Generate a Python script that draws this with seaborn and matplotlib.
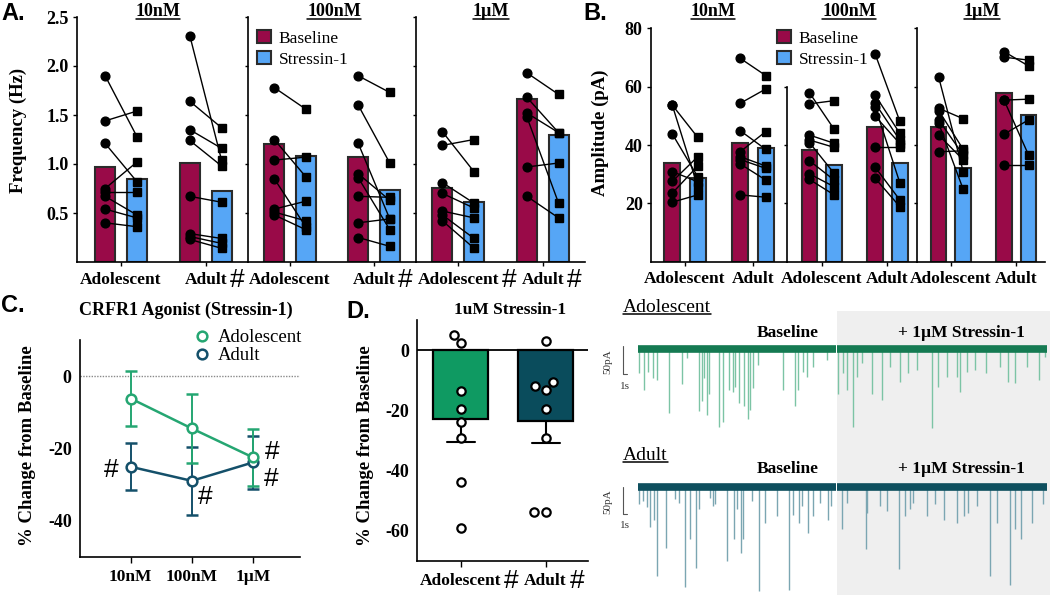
import numpy as np
import pandas as pd
import matplotlib
matplotlib.use("Agg")
import matplotlib.pyplot as plt
import seaborn as sns
from matplotlib.patches import Patch, Rectangle
from matplotlib.lines import Line2D

# ------------------------------------------------------------------ data
GROUPS = ["Adolescent", "Adult"]
CONDS = ["Baseline", "Stressin-1"]
DOSES = ["10nM", "100nM", "1µM"]

# Panel A - frequency (Hz); bar heights [Adolescent, Adult]
freq_bar_base_10nM = [0.97, 1.01]
freq_bar_stress_10nM = [0.85, 0.72]
freq_bar_base_100nM = [1.20, 1.07]
freq_bar_stress_100nM = [1.08, 0.73]
freq_bar_base_1uM = [0.76, 1.66]
freq_bar_stress_1uM = [0.61, 1.30]

freq_10nM_adol_base = [1.90, 1.44, 1.21, 0.75, 0.71, 0.67, 0.54, 0.40]
freq_10nM_adol_stress = [1.28, 1.54, 0.82, 1.02, 0.71, 0.48, 0.45, 0.36]
freq_10nM_adult_base = [2.31, 1.64, 1.35, 1.24, 0.67, 0.29, 0.26, 0.23]
freq_10nM_adult_stress = [1.04, 1.37, 1.16, 0.98, 0.61, 0.24, 0.19, 0.14]
freq_100nM_adol_base = [1.78, 1.25, 1.04, 0.85, 0.54, 0.51, 0.48]
freq_100nM_adol_stress = [1.56, 0.87, 1.07, 0.36, 0.62, 0.42, 0.33]
freq_100nM_adult_base = [1.90, 1.60, 1.21, 0.90, 0.86, 0.67, 0.40, 0.25]
freq_100nM_adult_stress = [1.73, 1.01, 0.44, 0.63, 0.33, 0.66, 0.44, 0.16]
freq_1uM_adol_base = [1.33, 1.19, 0.81, 0.70, 0.52, 0.48, 0.42]
freq_1uM_adol_stress = [0.92, 1.25, 0.60, 0.55, 0.45, 0.24, 0.14]
freq_1uM_adult_base = [1.93, 1.68, 1.52, 1.48, 0.97, 0.67]
freq_1uM_adult_stress = [1.71, 1.32, 1.32, 0.60, 1.01, 0.45]
FREQ_TICKS = [0.5, 1.0, 1.5, 2.0, 2.5]

# Panel B - amplitude (pA)
amp_bar_base_10nM = [33.7, 40.6]
amp_bar_stress_10nM = [28.8, 38.9]
amp_bar_base_100nM = [38.3, 46.3]
amp_bar_stress_100nM = [33.1, 33.7]
amp_bar_base_1uM = [46.1, 57.7]
amp_bar_stress_1uM = [32.2, 50.3]

amp_10nM_adol_base = [53.7, 53.7, 43.8, 30.9, 27.5, 23.5, 20.4]
amp_10nM_adol_stress = [42.6, 25.7, 29.1, 27.4, 36.0, 32.8, 22.9]
amp_10nM_adult_base = [69.7, 54.3, 44.9, 37.7, 36.0, 35.0, 33.5, 22.9]
amp_10nM_adult_stress = [63.8, 59.2, 38.5, 44.6, 32.8, 32.0, 28.0, 22.1]
amp_100nM_adol_base = [57.9, 54.1, 43.4, 41.7, 40.8, 34.6, 30.1, 28.2]
amp_100nM_adol_stress = [45.4, 55.2, 40.6, 39.2, 30.3, 28.0, 25.7, 22.9]
amp_100nM_adult_base = [71.2, 57.1, 54.3, 53.1, 49.9, 39.4, 32.4, 28.6]
amp_100nM_adult_stress = [48.2, 44.0, 41.7, 27.1, 40.5, 39.4, 21.2, 18.9]
amp_1uM_adol_base = [63.2, 52.6, 51.8, 48.6, 47.4, 43.4, 37.7]
amp_1uM_adol_stress = [30.9, 49.0, 38.5, 36.6, 24.8, 34.9, 38.0]
amp_1uM_adult_base = [72.0, 70.1, 55.4, 55.4, 43.7, 33.2]
amp_1uM_adult_stress = [67.1, 69.1, 55.7, 36.6, 48.6, 33.2]
AMP_TICKS = [20, 40, 60, 80]

# Panel C - % change from baseline, mean and SEM per dose
c_adol_mean = [-6.2, -14.5, -22.5]
c_adol_sem = [7.6, 9.5, 7.8]
c_adult_mean = [-25.1, -29.0, -23.9]
c_adult_sem = [6.5, 9.5, 7.4]
C_TICKS = [0, -20, -40]

# Panel D - % change, 1uM Stressin-1, individual cells
pct_adol = [5.0, 2.2, -13.6, -19.7, -23.8, -29.3, -43.9, -59.1]
pct_adult = [3.1, -10.7, -12.0, -13.3, -19.7, -29.3, -53.8, -53.8]
D_TICKS = [0, -20, -40, -60]

# Example traces: event time (s) and amplitude (pA)
TRACE_SWEEPS = [(0.0, 48.3), (48.7, 100.0)]
adol_event_t = [0.3, 1.5, 2.4, 3.6, 4.6, 7.5, 10.7, 11.9, 15.0, 15.7, 16.1, 16.8, 17.3,
                19.9, 20.7, 22.3, 23.2, 23.7, 24.8, 25.8, 26.8, 27.4, 28.2, 29.4, 35.5,
                38.4, 39.2, 40.4, 41.2, 42.9, 46.1,
                49.0, 50.2, 51.0, 52.5, 53.5, 54.7, 57.2, 59.6, 61.6, 64.1, 66.1, 68.1,
                72.0, 73.4, 75.5, 77.9, 78.7, 80.4, 82.4, 85.2, 88.5, 90.5, 92.2, 95.0,
                98.1, 99.5]
adol_event_pA = [43, 73, 40, 52, 55, 113, 62, 16, 111, 93, 52, 117, 79,
                 139, 129, 73, 76, 67, 96, 102, 125, 108, 70, 28, 73,
                 102, 73, 40, 49, 31, 19,
                 79, 43, 73, 138, 49, 25, 79, 90, 31, 58, 43, 37,
                 141, 67, 49, 49, 76, 40, 37, 43, 31, 58, 61, 31,
                 55, 13]
adult_event_t = [0.3, 1.3, 2.1, 2.9, 3.9, 4.7, 6.8, 9.0, 10.1, 11.5, 12.7, 14.2, 15.0,
                 17.6, 18.4, 18.8, 21.7, 23.5, 24.1, 25.2, 25.6, 27.8, 29.6, 31.0, 33.9,
                 36.9, 38.0, 39.4, 40.2, 41.5, 42.9, 44.6, 46.5, 47.3,
                 49.8, 51.0, 55.7, 56.1, 59.2, 60.8, 63.9, 65.3, 66.5, 67.3, 70.6, 72.6,
                 74.7, 77.9, 79.6, 80.8, 82.8, 86.1, 87.7, 91.0, 92.2, 93.6, 96.3, 99.0]
adult_event_pA = [32, 26, 38, 73, 60, 163, 112, 23, 29, 183, 96, 148, 41,
                  20, 35, 32, 136, 96, 41, 121, 96, 26, 191, 66, 54,
                  188, 51, 66, 35, 84, 54, 29, 60, 35,
                  78, 29, 113, 48, 35, 45, 151, 54, 41, 29, 54, 32,
                  60, 66, 54, 48, 35, 163, 66, 179, 78, 95, 66, 32]

# ------------------------------------------------------------------ style
MAROON = "#990A48"
SKY = "#56A6F6"
EDGE = "#2b2b2b"
C_GREEN = "#25A672"
C_TEAL = "#14506A"
D_GREEN = "#0F9A62"
D_TEAL = "#0A4C5C"
TR_GREEN_DARK, TR_GREEN_LIGHT = "#157A52", "#7CC4A5"
TR_TEAL_DARK, TR_TEAL_LIGHT = "#0E4F5E", "#7BA6B2"

sns.set_theme(style="ticks")
plt.rcParams.update({
    "font.family": ["Liberation Serif", "DejaVu Serif"],
    "axes.linewidth": 1.2,
    "axes.edgecolor": "black",
    "xtick.color": "black", "ytick.color": "black",
    "text.color": "black", "axes.labelcolor": "black",
    "xtick.major.width": 1.0, "ytick.major.width": 1.0,
})
SANS = "Liberation Sans"

W, H = 1050, 595
fig = plt.figure(figsize=(W / 100, H / 100), dpi=100)


def add_ax(l, t, r, b):
    return fig.add_axes([l / W, 1 - b / H, (r - l) / W, (b - t) / H])


def ftext(x, y, s, **kw):
    return fig.text(x / W, 1 - y / H, s, **kw)


OFF = 0.1875
underlines = []
hash_after = []


def paired_panel(ax, bar_base, bar_stress, pts, ylim, yticks, ylabels, xlim, first):
    df = pd.DataFrame({"group": GROUPS + GROUPS,
                       "cond": [CONDS[0]] * 2 + [CONDS[1]] * 2,
                       "value": list(bar_base) + list(bar_stress)})
    sns.barplot(data=df, x="group", y="value", hue="cond", order=GROUPS, hue_order=CONDS,
                palette=[MAROON, SKY], saturation=1, width=0.75, gap=0.37, errorbar=None,
                edgecolor=EDGE, linewidth=1.5, legend=False, ax=ax)
    for gi, (base, stress) in enumerate(pts):
        xb, xs = gi - OFF, gi + OFF
        for vb, vs in zip(base, stress):
            ax.plot([xb, xs], [vb, vs], color="black", lw=1.0, zorder=3)
        ax.plot(np.full(len(base), xb), base, "o", color="black", ms=6.3, zorder=4)
        ax.plot(np.full(len(stress), xs), stress, "s", color="black", ms=6.0, zorder=4)
    ax.set_xlim(*xlim)
    ax.set_ylim(*ylim)
    ax.set_xlabel("")
    ax.set_ylabel("")
    ax.set_facecolor("none")
    sns.despine(ax=ax)
    ax.set_xticks([0, 1])
    ax.set_xticklabels(GROUPS, fontsize=12.5, fontweight="bold")
    ax.tick_params(axis="x", length=3, pad=4)
    ax.set_yticks(yticks)
    if first:
        ax.set_yticklabels(ylabels, fontsize=13, fontweight="bold")
        ax.tick_params(axis="y", length=3, pad=3)
    else:
        ax.set_yticklabels([])
        ax.tick_params(axis="y", length=2)


# ------------------------------------------------------------------ panel A
A_boxes = [(77, 17, 248, 262), (248, 17, 416, 262), (416, 17, 585, 262)]
A_xlims = [(-0.52, 1.5), (-0.5, 1.5), (-0.5, 1.5)]
A_bars = [(freq_bar_base_10nM, freq_bar_stress_10nM),
          (freq_bar_base_100nM, freq_bar_stress_100nM),
          (freq_bar_base_1uM, freq_bar_stress_1uM)]
A_pts = [[(freq_10nM_adol_base, freq_10nM_adol_stress), (freq_10nM_adult_base, freq_10nM_adult_stress)],
         [(freq_100nM_adol_base, freq_100nM_adol_stress), (freq_100nM_adult_base, freq_100nM_adult_stress)],
         [(freq_1uM_adol_base, freq_1uM_adol_stress), (freq_1uM_adult_base, freq_1uM_adult_stress)]]
A_title_x = [158, 334, 491]
axA = []
for i in range(3):
    ax = add_ax(*A_boxes[i])
    paired_panel(ax, A_bars[i][0], A_bars[i][1], A_pts[i], (0, 2.5), FREQ_TICKS,
                 [f"{v:.1f}" for v in FREQ_TICKS], A_xlims[i], i == 0)
    axA.append(ax)
    underlines.append(ftext(A_title_x[i], 12, DOSES[i], ha="center", va="center",
                            fontsize=13, fontweight="bold"))
hash_after += [axA[0].get_xticklabels()[1], axA[1].get_xticklabels()[1],
               axA[2].get_xticklabels()[0], axA[2].get_xticklabels()[1]]
ftext(18, 130, "Frequency (Hz)", rotation=90, ha="center", va="center",
      fontsize=13.5, fontweight="bold")

# ------------------------------------------------------------------ panel B
B_boxes = [(651, 28.3, 787, 261.7), (787, 28.3, 917, 261.7), (917, 28.3, 1045, 261.7)]
B_xlims = [(-0.5, 1.5), (-0.53, 1.45), (-0.52, 1.44)]
B_bars = [(amp_bar_base_10nM, amp_bar_stress_10nM),
          (amp_bar_base_100nM, amp_bar_stress_100nM),
          (amp_bar_base_1uM, amp_bar_stress_1uM)]
B_pts = [[(amp_10nM_adol_base, amp_10nM_adol_stress), (amp_10nM_adult_base, amp_10nM_adult_stress)],
         [(amp_100nM_adol_base, amp_100nM_adol_stress), (amp_100nM_adult_base, amp_100nM_adult_stress)],
         [(amp_1uM_adol_base, amp_1uM_adol_stress), (amp_1uM_adult_base, amp_1uM_adult_stress)]]
B_title_x = [713, 849, 982]
axB = []
for i in range(3):
    ax = add_ax(*B_boxes[i])
    paired_panel(ax, B_bars[i][0], B_bars[i][1], B_pts[i], (0, 80), AMP_TICKS,
                 [str(v) for v in AMP_TICKS], B_xlims[i], i == 0)
    axB.append(ax)
    underlines.append(ftext(B_title_x[i], 12, DOSES[i], ha="center", va="center",
                            fontsize=13, fontweight="bold"))
axB[1].spines["left"].set_bounds(0, 60)
axB[1].set_yticks(AMP_TICKS[:3])
axB[1].set_yticklabels([])
ftext(600, 133, "Amplitude (pA)", rotation=90, ha="center", va="center",
      fontsize=13.5, fontweight="bold")

leg_handles = [Patch(facecolor=MAROON, edgecolor=EDGE, linewidth=1.5),
               Patch(facecolor=SKY, edgecolor=EDGE, linewidth=1.5)]
for lx, ly in [(257, 30), (777, 30)]:
    fig.legend(leg_handles, CONDS, loc="upper left", bbox_to_anchor=(lx / W, 1 - ly / H),
               frameon=False, fontsize=12.5, handlelength=0.8, handleheight=0.8,
               handletextpad=0.45, labelspacing=0.25, borderpad=0, borderaxespad=0)

# ------------------------------------------------------------------ panel C
axC = add_ax(80, 340, 300, 556.7)
xC = np.arange(len(DOSES))
axC.axhline(0, color="#8a8a8a", lw=1.0, ls=(0, (1, 1)), zorder=1)
for mean, sem, col in [(c_adult_mean, c_adult_sem, C_TEAL), (c_adol_mean, c_adol_sem, C_GREEN)]:
    axC.errorbar(xC, mean, yerr=sem, fmt="-o", color=col, mfc="white", mec=col, mew=1.8,
                 ms=7, lw=1.8, capsize=4, elinewidth=1.4, capthick=1.4, zorder=3)
axC.set_xlim(-0.83, 2.77)
axC.set_ylim(-50, 10)
axC.set_xticks(xC)
axC.set_xticklabels(DOSES, fontsize=12.5, fontweight="bold")
axC.set_yticks(C_TICKS)
axC.set_yticklabels([str(v) for v in C_TICKS], fontsize=13, fontweight="bold")
axC.tick_params(axis="x", length=4, pad=5)
axC.tick_params(axis="y", length=0, pad=6)
sns.despine(ax=axC)
hash_pts = [(0, c_adult_mean[0], -14.4, -2.4), (1, c_adult_mean[1], 9.4, -11.3),
            (2, c_adol_mean[2], 14.0, 4.0), (2, c_adult_mean[2], 13.2, -12.2)]
for hx, hy, dx, dy in hash_pts:
    axC.annotate("#", xy=(hx, hy), xytext=(dx, dy), textcoords="offset points",
                 ha="center", va="center", fontsize=19, family=SANS)
ftext(186, 310, "CRFR1 Agonist (Stressin-1)", ha="center", va="center",
      fontsize=13, fontweight="bold")
ftext(28, 446, "% Change from Baseline", rotation=90, ha="center", va="center",
      fontsize=13.5, fontweight="bold")
c_handles = [Line2D([], [], ls="none", marker="o", mfc="white", mec=c, mew=1.8, ms=7)
             for c in (C_GREEN, C_TEAL)]
fig.legend(c_handles, GROUPS, loc="upper left", bbox_to_anchor=(193 / W, 1 - 329 / H),
           frameon=False, fontsize=13.5, handlelength=1.0, handletextpad=0.3,
           labelspacing=0.05, borderpad=0, borderaxespad=0)

# ------------------------------------------------------------------ panel D
axD = add_ax(417.3, 320, 588, 560.7)
dfD = pd.DataFrame({"group": ["Adolescent"] * len(pct_adol) + ["Adult"] * len(pct_adult),
                    "pct": pct_adol + pct_adult})
sns.barplot(data=dfD, x="group", y="pct", order=GROUPS, hue="group", hue_order=GROUPS,
            palette=[D_GREEN, D_TEAL], saturation=1, width=0.65, errorbar="se", capsize=0.33,
            err_kws={"color": "black", "linewidth": 1.5}, edgecolor="black", linewidth=1.6,
            legend=False, ax=axD)
for p in axD.patches:
    p.set_zorder(3)
for ln in axD.lines:
    ln.set_zorder(2)
axD.axhline(0, color="black", lw=1.3, zorder=3.5)
sns.swarmplot(data=dfD, x="group", y="pct", order=GROUPS, color="white", edgecolor="black",
              linewidth=1.6, size=6, ax=axD, zorder=5)
axD.set_xlim(-0.51, 1.5)
axD.set_ylim(-70, 10)
axD.set_xlabel("")
axD.set_ylabel("")
axD.set_xticks([0, 1])
axD.set_xticklabels(GROUPS, fontsize=12.5, fontweight="bold")
axD.set_yticks(D_TICKS)
axD.set_yticklabels([str(v) for v in D_TICKS], fontsize=13, fontweight="bold")
axD.tick_params(axis="x", length=4, pad=5)
axD.tick_params(axis="y", length=0, pad=6)
sns.despine(ax=axD)
hash_after += [axD.get_xticklabels()[0], axD.get_xticklabels()[1]]
ftext(510, 310, "1uM Stressin-1", ha="center", va="center", fontsize=12.5, fontweight="bold")
ftext(365, 446, "% Change from Baseline", rotation=90, ha="center", va="center",
      fontsize=13.5, fontweight="bold")

# ------------------------------------------------------------------ traces
fig.add_artist(Rectangle((837 / W, 0), (W - 837) / W, 1 - 311 / H, transform=fig.transFigure,
                         facecolor="#efefef", edgecolor="none", zorder=-1))


def draw_trace(ax, t, amp, dark, light, ylim, sb_top):
    ax.vlines(t, -np.asarray(amp, dtype=float), 0, color=light, lw=1.0, zorder=1)
    for s0, s1 in TRACE_SWEEPS:
        ax.plot([s0, s1], [0, 0], color=dark, lw=5.5, solid_capstyle="butt", zorder=2)
    ax.set_xlim(0, 100)
    ax.set_ylim(*ylim)
    ax.axis("off")
    sbx = -3.7
    ax.plot([sbx, sbx, sbx + 1], [sb_top, sb_top - 50, sb_top - 50], color="#555555",
            lw=0.8, clip_on=False)
    ax.text(sbx - 3.6, sb_top - 28, "50pA", rotation=90, ha="center", va="center",
            fontsize=8, color="#333333")
    ax.text(sbx + 0.6, sb_top - 71, "1s", ha="center", va="center", fontsize=8, color="#333333")


axT1 = add_ax(638, 340, 1047, 440)
draw_trace(axT1, adol_event_t, adol_event_pA, TR_GREEN_DARK, TR_GREEN_LIGHT, (-162, 16.6), 5)
axT2 = add_ax(638, 478, 1047, 595)
draw_trace(axT2, adult_event_t, adult_event_pA, TR_TEAL_DARK, TR_TEAL_LIGHT, (-198, 15.9), 0)

underlines.append(ftext(623, 307, "Adolescent", ha="left", va="center", fontsize=14))
underlines.append(ftext(623, 455, "Adult", ha="left", va="center", fontsize=14))
for yy in (333, 469):
    ftext(788, yy, "Baseline", ha="center", va="center", fontsize=12.5, fontweight="bold")
    ftext(961, yy, "+ 1µM Stressin-1", ha="center", va="center", fontsize=12.5,
          fontweight="bold")

# ------------------------------------------------------------------ panel letters
for lx, ly, s in [(1, 13, "A."), (583, 14, "B."), (1, 305, "C."), (346, 311, "D.")]:
    ftext(lx, ly, s, ha="left", va="center", fontsize=17, fontweight="bold", family=SANS)

# ------------------------------------------------------------------ underlines and # marks
fig.canvas.draw()
rend = fig.canvas.get_renderer()
for t in underlines:
    bb = t.get_window_extent(rend)
    yy = bb.y0 + 1.5
    fig.add_artist(Line2D([bb.x0 / W, bb.x1 / W], [yy / H, yy / H], transform=fig.transFigure,
                          color="black", lw=1.1))
for lbl in hash_after:
    bb = lbl.get_window_extent(rend)
    fig.text((bb.x1 + 3) / W, ((bb.y0 + bb.y1) / 2) / H, "#", ha="left", va="center",
             fontsize=19, family=SANS)

fig.savefig("out.png", dpi=100)
